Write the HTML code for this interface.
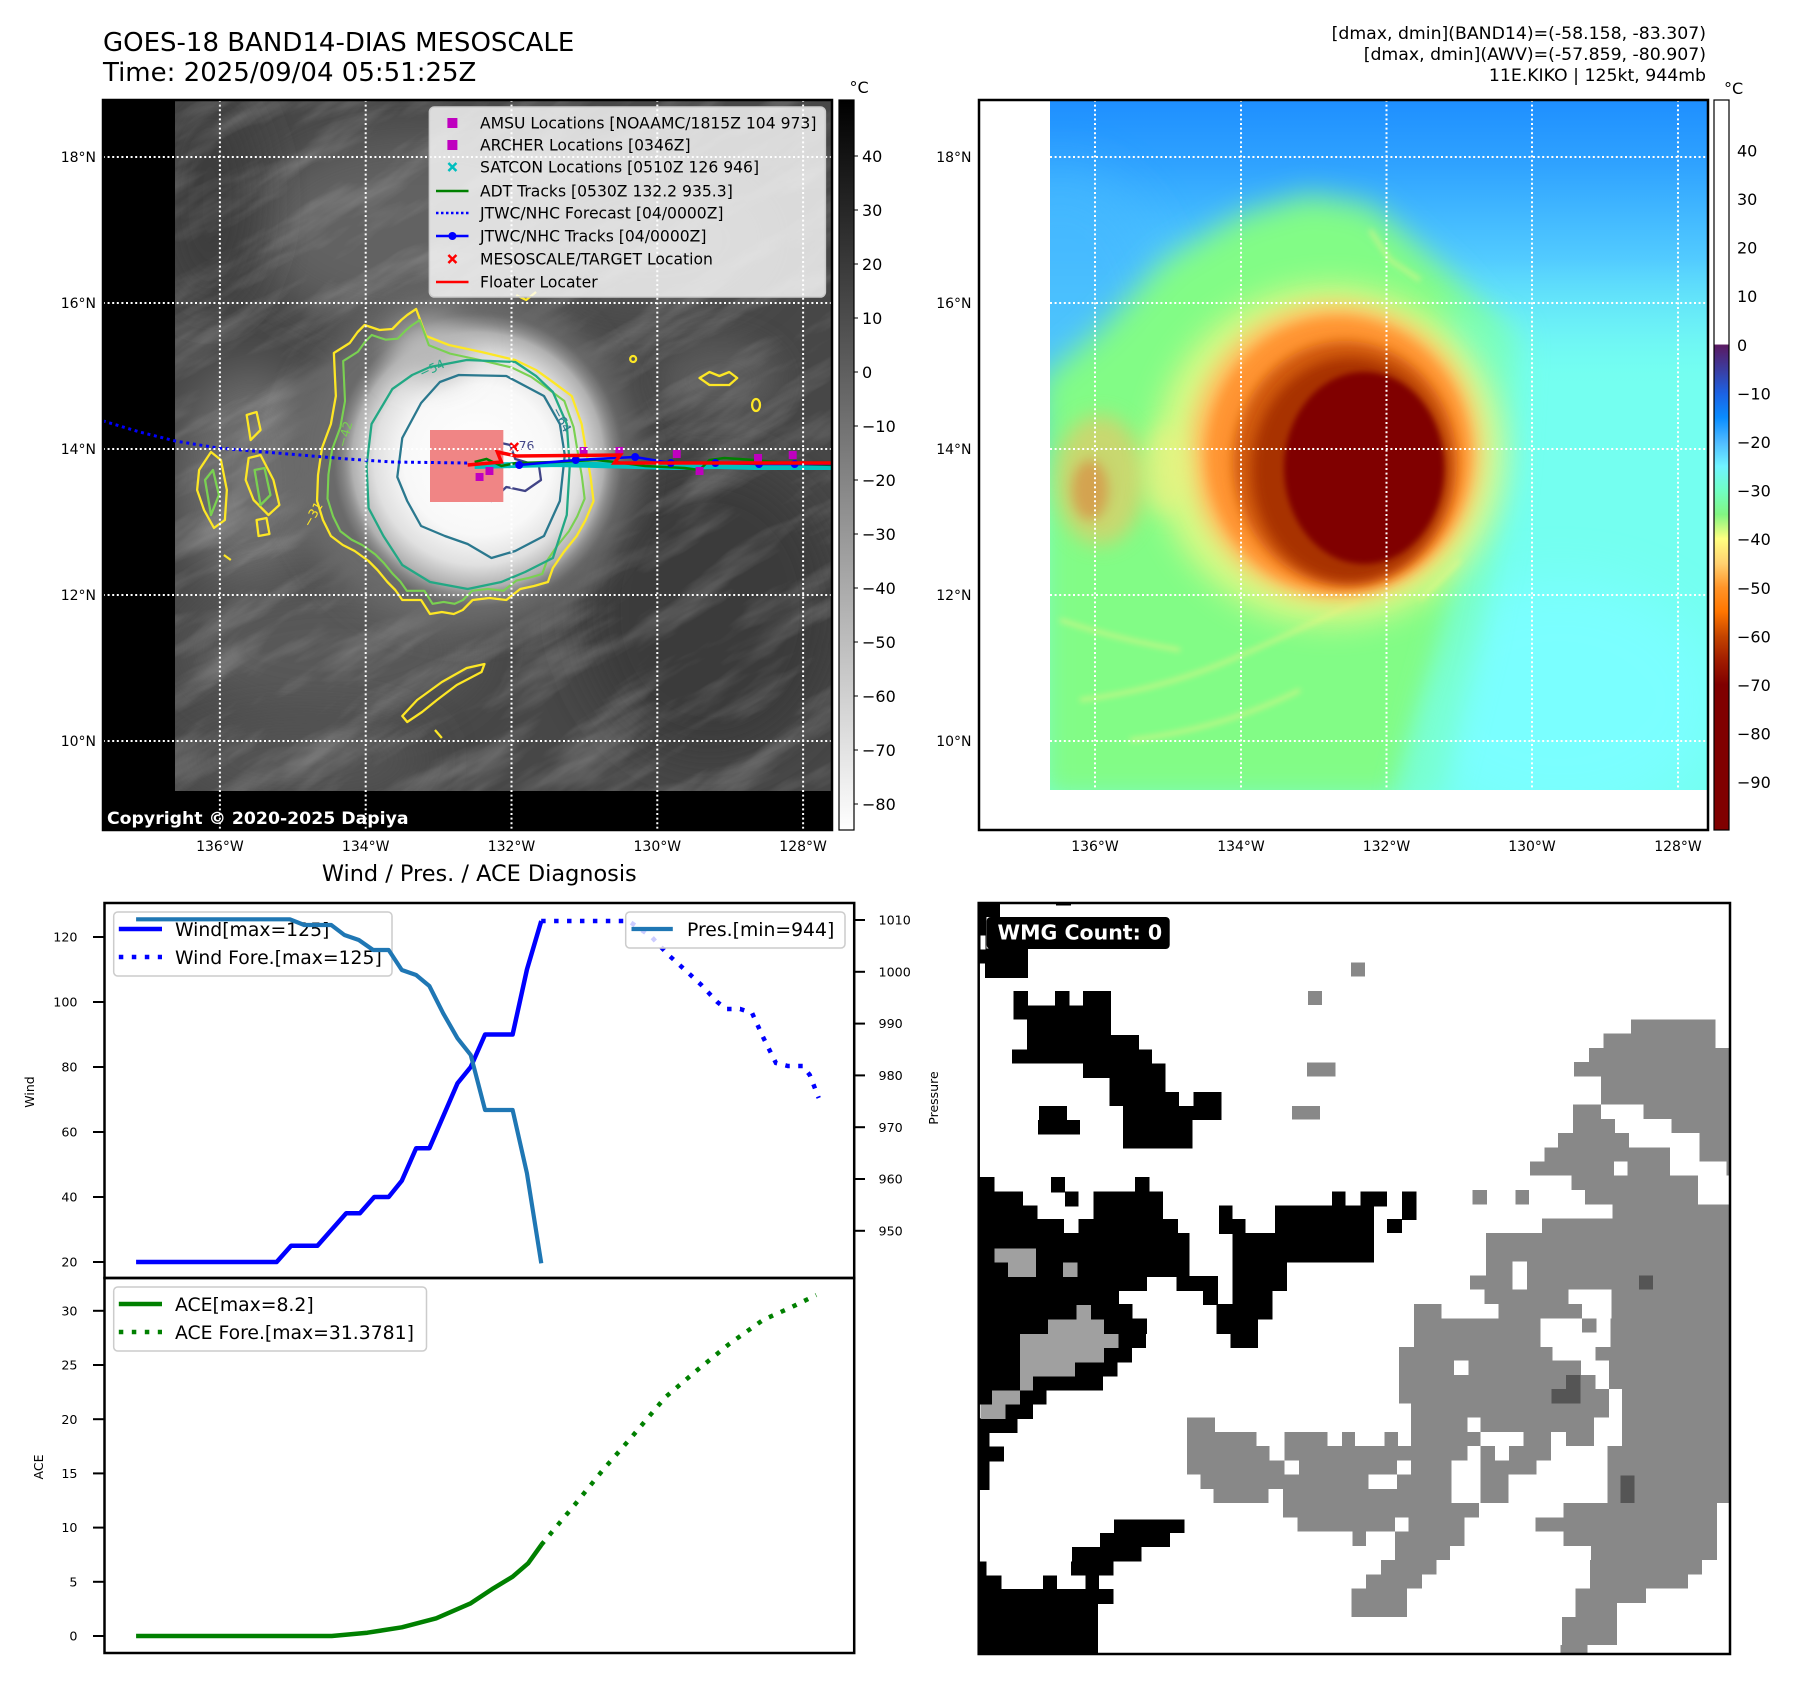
<!DOCTYPE html>
<html><head><meta charset="utf-8"><style>
html,body{margin:0;padding:0;background:#fff;}
svg{display:block;}
text{font-family:"DejaVu Sans","Liberation Sans",sans-serif;}
</style></head><body>
<svg width="1797" height="1690" viewBox="0 0 1797 1690" xmlns="http://www.w3.org/2000/svg">
<defs>
<clipPath id="clipL"><rect x="103" y="100" width="729" height="730"/></clipPath>
<clipPath id="clipLD"><rect x="175" y="100" width="657" height="691"/></clipPath>
<clipPath id="clipR"><rect x="979" y="100" width="729" height="730"/></clipPath>
<clipPath id="clipRD"><rect x="1050" y="100" width="658" height="690"/></clipPath>
<filter id="b2" x="-50%" y="-50%" width="200%" height="200%"><feGaussianBlur stdDeviation="2"/></filter>
<filter id="b3" x="-50%" y="-50%" width="200%" height="200%"><feGaussianBlur stdDeviation="3"/></filter>
<filter id="b6" x="-50%" y="-50%" width="200%" height="200%"><feGaussianBlur stdDeviation="6"/></filter>
<filter id="b10" x="-50%" y="-50%" width="200%" height="200%"><feGaussianBlur stdDeviation="10"/></filter>
<filter id="b15" x="-50%" y="-50%" width="200%" height="200%"><feGaussianBlur stdDeviation="15"/></filter>
<filter id="b25" x="-50%" y="-50%" width="200%" height="200%"><feGaussianBlur stdDeviation="25"/></filter>
<filter id="tex" x="0" y="0" width="100%" height="100%"><feTurbulence type="fractalNoise" baseFrequency="0.008 0.035" numOctaves="4" seed="7"/><feColorMatrix type="matrix" values="0 0 0 0 1  0 0 0 0 1  0 0 0 0 1  1.6 0 0 0 -0.72"/></filter>
<radialGradient id="rgL" cx="0.5" cy="0.5" r="0.5">
<stop offset="0" stop-color="#ffffff"/><stop offset="0.5" stop-color="#f8f8f8"/>
<stop offset="0.7" stop-color="#e0e0e0"/><stop offset="0.85" stop-color="#b0b0b0"/>
<stop offset="0.95" stop-color="#808080" stop-opacity="0.5"/><stop offset="1" stop-color="#606060" stop-opacity="0"/>
</radialGradient>
<linearGradient id="cbL" x1="0" y1="0" x2="0" y2="1"><stop offset="0" stop-color="#000"/><stop offset="1" stop-color="#fff"/></linearGradient>
<linearGradient id="cbR" x1="0" y1="0" x2="0" y2="1">
<stop offset="0" stop-color="#fff"/><stop offset="0.334" stop-color="#fff"/>
<stop offset="0.336" stop-color="#5a1a62"/><stop offset="0.369" stop-color="#3c3ca0"/>
<stop offset="0.402" stop-color="#1c62e4"/><stop offset="0.435" stop-color="#0a8cff"/>
<stop offset="0.469" stop-color="#50bcff"/><stop offset="0.502" stop-color="#70f4ff"/>
<stop offset="0.535" stop-color="#70ffc4"/><stop offset="0.568" stop-color="#82f582"/>
<stop offset="0.601" stop-color="#ffff80"/><stop offset="0.635" stop-color="#ffd070"/>
<stop offset="0.668" stop-color="#ff9428"/><stop offset="0.701" stop-color="#ff7600"/>
<stop offset="0.735" stop-color="#c44400"/><stop offset="0.768" stop-color="#a01c00"/>
<stop offset="0.801" stop-color="#800000"/><stop offset="1" stop-color="#800000"/>
</linearGradient>
<linearGradient id="lgTop" gradientUnits="userSpaceOnUse" x1="0" y1="100" x2="0" y2="390">
<stop offset="0" stop-color="#1e8fff"/><stop offset="0.22" stop-color="#2fa2ff"/>
<stop offset="0.55" stop-color="#52cbff"/><stop offset="0.8" stop-color="#68eafa" stop-opacity="0.6"/>
<stop offset="1" stop-color="#74fff0" stop-opacity="0"/>
</linearGradient>
<path id="cY" fill="none" stroke-linejoin="round" d="M419,309 L429,336 L452,345 L485,352 L519,360 L540,370 L557,382 L576,396 L586,424 L590,448 L595,477 L598,501 L590,520 L581,536 L568,552 L557,568 L552,582 L538,586 L524,589 L510,600 L493,598 L476,600 L466,610 L457,614 L445,612 L433,614 L424,600 L405,600 L398,590 L390,582 L380,570 L371,561 L357,551 L345,545 L333,536 L325,520 L319,501 L320,475 L324,448 L333,424 L338,396 L337,375 L336,353 L352,343 L360,332 L367,325 L382,330 L395,329 L404,320 L410,315 Z"/>
</defs>

<!-- Titles -->
<text x="103" y="51" font-size="26">GOES-18 BAND14-DIAS MESOSCALE</text>
<text x="103" y="81" font-size="26">Time: 2025/09/04 05:51:25Z</text>
<g font-size="17.3" text-anchor="end">
<text x="1706" y="39">[dmax, dmin](BAND14)=(-58.158, -83.307)</text>
<text x="1706" y="60">[dmax, dmin](AWV)=(-57.859, -80.907)</text>
<text x="1706" y="81">11E.KIKO | 125kt, 944mb</text>
</g>

<!-- LEFT MAP -->
<g clip-path="url(#clipL)">
<rect x="103" y="100" width="729" height="730" fill="#000"/>
<g clip-path="url(#clipLD)">
<rect x="175" y="100" width="657" height="691" fill="#474747"/>
<ellipse cx="420" cy="230" rx="170" ry="95" fill="#626262" filter="url(#b25)"/>
<ellipse cx="650" cy="240" rx="120" ry="70" fill="#545454" filter="url(#b25)"/>
<ellipse cx="210" cy="200" rx="50" ry="110" fill="#3c3c3c" filter="url(#b25)"/>
<ellipse cx="250" cy="480" rx="70" ry="110" fill="#6e6e6e" filter="url(#b25)"/>
<ellipse cx="330" cy="650" rx="150" ry="70" fill="#595959" filter="url(#b25)"/>
<ellipse cx="710" cy="610" rx="130" ry="150" fill="#3a3a3a" filter="url(#b25)"/>
<ellipse cx="300" cy="760" rx="130" ry="40" fill="#555555" filter="url(#b25)"/>
<ellipse cx="720" cy="380" rx="60" ry="40" fill="#5a5a5a" filter="url(#b15)"/>
<g transform="rotate(-30 500 450)"><rect x="-150" y="-250" width="1300" height="1400" filter="url(#tex)" opacity="0.3"/></g>
<ellipse cx="462" cy="462" rx="175" ry="170" fill="#6a6a6a" filter="url(#b15)"/>
<ellipse cx="478" cy="460" rx="148" ry="150" fill="url(#rgL)"/>
<ellipse cx="430" cy="350" rx="40" ry="30" fill="#b8b8b8" filter="url(#b15)"/>
</g>
<g transform="translate(100 0) scale(0.991 1) translate(-100 0)">
<g fill="none" stroke-width="2.3" stroke-linejoin="round">
<use href="#cY" stroke="#fde725"/>
<use href="#cY" stroke="#7ad151" transform="translate(470 468) scale(0.93) translate(-470 -468)"/>
<path stroke="#22a884" d="M433,367 L470,360 L519,362 L540,376 L557,392 L571,424 L574,466 L571,515 L557,558 L529,572 L505,582 L471,589 L433,582 L405,565 L386,536 L371,508 L369,466 L374,424 L395,389 L415,375 Z"/>
<path stroke="#2a788e" d="M462,375 L510,376 L548,396 L564,424 L569,455 L564,501 L548,536 L519,551 L495,558 L471,544 L448,536 L424,526 L410,501 L400,477 L405,438 L424,403 L443,382 Z"/>
<path stroke="#414487" d="M495,441 L514,445 L519,459 L543,466 L545,480 L529,491 L510,487 L495,501 L481,498 L462,487 L457,480 L476,473 L490,455 Z"/>
<g stroke="#fde725">
<path d="M200,470 L212,452 L222,460 L228,490 L226,520 L215,528 L205,510 L198,490 Z"/>
<path d="M248,415 L258,412 L262,430 L252,440 Z"/>
<path d="M250,458 L262,455 L275,480 L281,505 L270,515 L255,500 L247,480 Z"/>
<path d="M258,520 L268,518 L271,534 L260,536 Z"/>
<path d="M705,378 L715,372 L725,376 L735,372 L743,378 L735,385 L715,385 Z"/>
<ellipse cx="762" cy="405" rx="4" ry="6"/>
<circle cx="638" cy="359" r="3"/>
<path d="M470,668 L488,664 L485,672 L460,685 L440,700 L425,712 L410,722 L405,716 L420,700 L445,682 Z"/>
<path d="M438,730 L445,738"/>
<path d="M520,295 L530,300 L540,292"/>
<path d="M225,555 L232,560"/>
</g>
<g stroke="#7ad151"><path d="M206,480 L214,470 L220,495 L212,515 Z"/><path d="M256,470 L266,468 L272,495 L262,505 Z"/></g>
</g>
<g font-size="12.5">
<text x="425" y="378" fill="#22a884" transform="rotate(-25 425 378)">−54</text>
<text x="556" y="410" fill="#2a788e" transform="rotate(62 556 410)">−64</text>
<text x="512" y="450" fill="#414487">−76</text>
<text x="348" y="448" fill="#7ad151" transform="rotate(-75 348 448)">−42</text>
<text x="312" y="528" fill="#fde725" transform="rotate(-60 312 528)">−31</text>
</g>
<rect x="433" y="430" width="74" height="72" fill="#f08585"/>
<polyline points="90,417 140,432 176,441 219,448 290,454 350,459 395,462 471,463" fill="none" stroke="#0000ff" stroke-width="3" stroke-dasharray="3 3.7"/>
<polyline points="478,466 520,465 560,464 600,465 640,466 680,467 720,466 760,467 800,467 845,467" fill="none" stroke="#00bfbf" stroke-width="6"/>
<polyline points="478,462 490,459 505,466 520,463 560,462 600,460 620,462 650,466 690,468 705,470 715,460 730,458 760,460 800,464 845,465" fill="none" stroke="#008000" stroke-width="2.5"/>
<polyline points="523,465 580,460 640,457 676,463 721,463 765,464 801,464 845,464" fill="none" stroke="#0000ff" stroke-width="2.5"/>
<g fill="#0000ff"><circle cx="523" cy="465" r="4"/><circle cx="580" cy="460" r="4"/><circle cx="640" cy="457" r="4"/><circle cx="676" cy="463" r="4"/><circle cx="721" cy="463" r="4"/><circle cx="765" cy="464" r="4"/><circle cx="801" cy="464" r="4"/></g>
<g fill="#bf00bf"><rect x="584" y="447" width="8" height="8"/><rect x="620" y="447" width="8" height="8"/><rect x="678" y="450" width="8" height="8"/><rect x="760" y="454" width="8" height="8"/><rect x="795" y="451" width="8" height="8"/><rect x="479" y="473" width="8" height="8"/><rect x="489" y="467" width="8" height="8"/><rect x="701" y="467" width="8" height="8"/></g>
<path d="M471,465 L505,462 L501,452 L520,456 L625,455 L619,463 L845,463" fill="none" stroke="#ff0000" stroke-width="3.5"/>
<path d="M514,443 L522,451 M522,443 L514,451" stroke="#ff0000" stroke-width="2.5"/>
</g>
<g stroke="#fff" stroke-width="2" stroke-dasharray="2 2.6">
<line x1="103" y1="157" x2="832" y2="157"/><line x1="103" y1="303" x2="832" y2="303"/><line x1="103" y1="449" x2="832" y2="449"/><line x1="103" y1="595" x2="832" y2="595"/><line x1="103" y1="741" x2="832" y2="741"/>
<line x1="219.9" y1="100" x2="219.9" y2="830"/><line x1="365.7" y1="100" x2="365.7" y2="830"/><line x1="511.5" y1="100" x2="511.5" y2="830"/><line x1="657.3" y1="100" x2="657.3" y2="830"/><line x1="803.1" y1="100" x2="803.1" y2="830"/>
</g>
<rect x="429.4" y="107" width="396" height="190" rx="5" fill="#fff" fill-opacity="0.8" stroke="#cccccc" stroke-width="1.5"/>
<rect x="447.4" y="118" width="10" height="10" fill="#bf00bf"/>
<rect x="447.4" y="140" width="10" height="10" fill="#bf00bf"/>
<path d="M448.4,163 L456.4,171 M456.4,163 L448.4,171" stroke="#00bfbf" stroke-width="2.5"/>
<line x1="436" y1="191" x2="468.5" y2="191" stroke="#008000" stroke-width="2.5"/>
<line x1="436" y1="213" x2="468.5" y2="213" stroke="#0000ff" stroke-width="2.5" stroke-dasharray="2.5 2.5"/>
<line x1="436" y1="236" x2="468.5" y2="236" stroke="#0000ff" stroke-width="2.5"/><circle cx="452.4" cy="236" r="4" fill="#0000ff"/>
<path d="M448.4,255 L456.4,263 M456.4,255 L448.4,263" stroke="#ff0000" stroke-width="2.5"/>
<line x1="436" y1="282" x2="468.5" y2="282" stroke="#ff0000" stroke-width="2.5"/>
<g font-size="15.6">
<text x="480" y="128.5">AMSU Locations [NOAAMC/1815Z 104 973]</text>
<text x="480" y="150.5">ARCHER Locations [0346Z]</text>
<text x="480" y="172.5">SATCON Locations [0510Z 126 946]</text>
<text x="480" y="196.5">ADT Tracks [0530Z 132.2 935.3]</text>
<text x="480" y="218.5">JTWC/NHC Forecast [04/0000Z]</text>
<text x="480" y="241.5">JTWC/NHC Tracks [04/0000Z]</text>
<text x="480" y="264.5">MESOSCALE/TARGET Location</text>
<text x="480" y="287.5">Floater Locater</text>
</g>
<text x="107" y="824" font-size="17.3" font-weight="bold" fill="#fff">Copyright © 2020-2025 Dapiya</text>
</g>
<rect x="103" y="100" width="729" height="730" fill="none" stroke="#000" stroke-width="2.5"/>
<rect x="839" y="100" width="15" height="730" fill="url(#cbL)" stroke="#000" stroke-width="1.2"/>
<text x="849.5" y="93" font-size="16">°C</text>
<g font-size="16">
<text x="862" y="161.8">40</text><text x="862" y="215.8">30</text><text x="862" y="269.8">20</text><text x="862" y="323.8">10</text><text x="862" y="377.8">0</text>
<text x="862" y="431.8">−10</text><text x="862" y="485.8">−20</text><text x="862" y="539.8">−30</text><text x="862" y="593.8">−40</text><text x="862" y="647.8">−50</text>
<text x="862" y="701.8">−60</text><text x="862" y="755.8">−70</text><text x="862" y="809.8">−80</text>
</g>
<g stroke="#000" stroke-width="1"><line x1="854" y1="156" x2="858" y2="156"/><line x1="854" y1="210" x2="858" y2="210"/><line x1="854" y1="264" x2="858" y2="264"/><line x1="854" y1="318" x2="858" y2="318"/><line x1="854" y1="372" x2="858" y2="372"/><line x1="854" y1="426" x2="858" y2="426"/><line x1="854" y1="480" x2="858" y2="480"/><line x1="854" y1="534" x2="858" y2="534"/><line x1="854" y1="588" x2="858" y2="588"/><line x1="854" y1="642" x2="858" y2="642"/><line x1="854" y1="696" x2="858" y2="696"/><line x1="854" y1="750" x2="858" y2="750"/><line x1="854" y1="804" x2="858" y2="804"/></g>
<g font-size="14" text-anchor="end">
<text x="96" y="162">18°N</text><text x="96" y="308">16°N</text><text x="96" y="454">14°N</text><text x="96" y="600">12°N</text><text x="96" y="746">10°N</text>
<text x="971.5" y="162">18°N</text><text x="971.5" y="308">16°N</text><text x="971.5" y="454">14°N</text><text x="971.5" y="600">12°N</text><text x="971.5" y="746">10°N</text>
</g>
<g font-size="14" text-anchor="middle">
<text x="219.9" y="851">136°W</text><text x="365.7" y="851">134°W</text><text x="511.5" y="851">132°W</text><text x="657.3" y="851">130°W</text><text x="803.1" y="851">128°W</text>
<text x="1095" y="851">136°W</text><text x="1241" y="851">134°W</text><text x="1386.5" y="851">132°W</text><text x="1532" y="851">130°W</text><text x="1678" y="851">128°W</text>
</g>

<!-- RIGHT MAP -->
<g clip-path="url(#clipR)">
<rect x="979" y="100" width="729" height="730" fill="#fff"/>
<g clip-path="url(#clipRD)">
<rect x="1050" y="100" width="658" height="690" fill="#74fff0"/>
<rect x="1050" y="100" width="658" height="690" fill="url(#lgTop)"/>
<ellipse cx="1060" cy="320" rx="110" ry="150" fill="#44b8ff" filter="url(#b25)" opacity="0.8"/>
<ellipse cx="1560" cy="700" rx="160" ry="120" fill="#7affff" filter="url(#b25)"/>
<path d="M1040,380 L1100,330 L1165,260 L1240,215 L1308,195 L1370,205 L1400,230 L1450,275 L1500,330 L1490,420 L1480,520 L1460,620 L1430,700 L1400,800 L1040,800 Z" fill="#82fc86" filter="url(#b15)"/>
<path d="M1440,300 L1520,330 L1510,480 L1480,640 L1440,800 L1400,800 L1440,650 L1470,500 Z" fill="#78ffc8" filter="url(#b15)" opacity="0.8"/>
<g fill="none" stroke="#f4f488" stroke-width="4" filter="url(#b3)" opacity="0.55">
<path d="M1080,700 Q1160,690 1230,660 T1360,600"/>
<path d="M1130,740 Q1220,730 1300,690"/>
<path d="M1060,620 Q1120,640 1180,650"/>
<path d="M1420,600 L1460,560"/>
<path d="M1370,230 L1390,260 L1420,280"/>
</g>
<ellipse cx="1330" cy="455" rx="175" ry="170" fill="#f6f884" filter="url(#b15)" opacity="0.75"/>
<ellipse cx="1335" cy="452" rx="145" ry="148" fill="#ffc060" filter="url(#b10)"/>
<ellipse cx="1338" cy="455" rx="132" ry="138" fill="#ff9430" filter="url(#b6)"/>
<ellipse cx="1345" cy="463" rx="112" ry="122" fill="#d05a10" filter="url(#b6)"/>
<ellipse cx="1350" cy="470" rx="98" ry="112" fill="#a83000" filter="url(#b6)"/>
<ellipse cx="1364" cy="468" rx="80" ry="96" fill="#800000" filter="url(#b3)"/>
<ellipse cx="1100" cy="480" rx="45" ry="65" fill="#f8c060" filter="url(#b10)" opacity="0.6"/>
<ellipse cx="1090" cy="490" rx="18" ry="30" fill="#e07030" filter="url(#b6)" opacity="0.5"/>
<ellipse cx="1165" cy="470" rx="22" ry="45" fill="#f0f080" filter="url(#b10)" opacity="0.6"/>
</g>
<g stroke="#fff" stroke-width="2" stroke-dasharray="2 2.6">
<line x1="1050" y1="157" x2="1708" y2="157"/><line x1="1050" y1="303" x2="1708" y2="303"/><line x1="1050" y1="449" x2="1708" y2="449"/><line x1="1050" y1="595" x2="1708" y2="595"/><line x1="1050" y1="741" x2="1708" y2="741"/>
<line x1="1095" y1="100" x2="1095" y2="790"/><line x1="1241" y1="100" x2="1241" y2="790"/><line x1="1386.5" y1="100" x2="1386.5" y2="790"/><line x1="1532" y1="100" x2="1532" y2="790"/><line x1="1678" y1="100" x2="1678" y2="790"/>
</g>
</g>
<rect x="979" y="100" width="729" height="730" fill="none" stroke="#000" stroke-width="2.5"/>
<rect x="1714" y="100" width="15" height="730" fill="url(#cbR)" stroke="#000" stroke-width="1.2"/>
<text x="1724" y="94" font-size="16">°C</text>
<g font-size="16">
<text x="1737" y="156.4">40</text><text x="1737" y="205">30</text><text x="1737" y="253.6">20</text><text x="1737" y="302.2">10</text><text x="1737" y="350.8">0</text>
<text x="1737" y="399.4">−10</text><text x="1737" y="448">−20</text><text x="1737" y="496.6">−30</text><text x="1737" y="545.2">−40</text><text x="1737" y="593.8">−50</text>
<text x="1737" y="642.4">−60</text><text x="1737" y="691">−70</text><text x="1737" y="739.6">−80</text><text x="1737" y="788.2">−90</text>
</g>

<!-- BOTTOM LEFT CHART -->
<text x="479.3" y="881" font-size="22.4" text-anchor="middle">Wind / Pres. / ACE Diagnosis</text>
<g stroke="#000" stroke-width="2">
<line x1="93" y1="1262" x2="104.5" y2="1262"/><line x1="93" y1="1197" x2="104.5" y2="1197"/><line x1="93" y1="1132" x2="104.5" y2="1132"/><line x1="93" y1="1067" x2="104.5" y2="1067"/><line x1="93" y1="1002" x2="104.5" y2="1002"/><line x1="93" y1="937" x2="104.5" y2="937"/>
<line x1="854" y1="920" x2="865" y2="920"/><line x1="854" y1="971.8" x2="865" y2="971.8"/><line x1="854" y1="1023.6" x2="865" y2="1023.6"/><line x1="854" y1="1075.4" x2="865" y2="1075.4"/><line x1="854" y1="1127.2" x2="865" y2="1127.2"/><line x1="854" y1="1179" x2="865" y2="1179"/><line x1="854" y1="1230.8" x2="865" y2="1230.8"/>
<line x1="93" y1="1636" x2="104.5" y2="1636"/><line x1="93" y1="1581.8" x2="104.5" y2="1581.8"/><line x1="93" y1="1527.6" x2="104.5" y2="1527.6"/><line x1="93" y1="1473.4" x2="104.5" y2="1473.4"/><line x1="93" y1="1419.2" x2="104.5" y2="1419.2"/><line x1="93" y1="1365" x2="104.5" y2="1365"/><line x1="93" y1="1310.8" x2="104.5" y2="1310.8"/>
</g>
<g font-size="12.7" text-anchor="end">
<text x="77.5" y="1266.6">20</text><text x="77.5" y="1201.6">40</text><text x="77.5" y="1136.6">60</text><text x="77.5" y="1071.6">80</text><text x="77.5" y="1006.6">100</text><text x="77.5" y="941.6">120</text>
<text x="77.5" y="1640.6">0</text><text x="77.5" y="1586.4">5</text><text x="77.5" y="1532.2">10</text><text x="77.5" y="1478">15</text><text x="77.5" y="1423.8">20</text><text x="77.5" y="1369.6">25</text><text x="77.5" y="1315.4">30</text>
</g>
<g font-size="12.7">
<text x="878.5" y="924.6">1010</text><text x="878.5" y="976.4">1000</text><text x="878.5" y="1028.2">990</text><text x="878.5" y="1080">980</text><text x="878.5" y="1131.8">970</text><text x="878.5" y="1183.6">960</text><text x="878.5" y="1235.4">950</text>
</g>
<g font-size="12.5" text-anchor="middle">
<text x="34" y="1092" transform="rotate(-90 34 1092)">Wind</text>
<text x="938" y="1098" transform="rotate(-90 938 1098)">Pressure</text>
<text x="43" y="1467" transform="rotate(-90 43 1467)">ACE</text>
</g>
<g transform="matrix(0.9948 0 0 1 0 0)">
<polyline points="136.8,1262 278.1,1262 292.6,1245.75 319.1,1245.75 348,1213.25 361.8,1213.25 376.2,1197 390.7,1197 403.9,1180.75 418.3,1148.25 431.6,1148.25 459.9,1083.25 473.2,1067 487.6,1034.5 515.3,1034.5 529.7,969.5 544.1,921" fill="none" stroke="#0000ff" stroke-width="4.5" stroke-linejoin="round"/>
<polyline points="544,921 632,921 655,937 672,955 692,973 705,985 721,1002 730,1009 744,1009 756,1013 767,1037 780,1063 792,1066 807,1066 814,1075 823,1098" fill="none" stroke="#0000ff" stroke-width="4.5" stroke-dasharray="4.5 8.5"/>
</g>
<rect x="113.7" y="912" width="278.3" height="64" rx="4" fill="#fff" fill-opacity="0.8" stroke="#cccccc" stroke-width="1.5"/>
<line x1="118.8" y1="929" x2="162" y2="929" stroke="#0000ff" stroke-width="4.5"/>
<line x1="118.8" y1="957" x2="162" y2="957" stroke="#0000ff" stroke-width="4.5" stroke-dasharray="4.5 8.5"/>
<text x="175" y="936" font-size="18.8">Wind[max=125]</text>
<text x="175" y="964" font-size="18.8">Wind Fore.[max=125]</text>
<g transform="matrix(0.9948 0 0 1 0 0)">
<polyline points="136.8,919.3 291.4,919.3 305.8,925 333,925 346.2,935 360.7,940 375.1,950 390.7,950 403.9,970 418.3,975 431.6,986 445.5,1013.3 459.9,1038.3 473.2,1055 487.6,1110 515.3,1110 529.7,1173.3 544.1,1263.3" fill="none" stroke="#1f77b4" stroke-width="4.2" stroke-linejoin="round"/>
</g>
<rect x="625.7" y="912" width="219.3" height="36" rx="4" fill="#fff" fill-opacity="0.8" stroke="#cccccc" stroke-width="1.5"/>
<line x1="631.5" y1="929" x2="672.8" y2="929" stroke="#1f77b4" stroke-width="4.2"/>
<text x="687" y="936" font-size="18.8">Pres.[min=944]</text>
<g transform="matrix(0.9948 0 0 1 0 0)">
<polyline points="136.8,1636 333.5,1636 369.3,1632.7 404,1627.3 438.5,1618.3 473.2,1603.3 496,1588.3 515.3,1576.7 530.9,1563.3 544.1,1545" fill="none" stroke="#008000" stroke-width="4.5" stroke-linejoin="round"/>
<polyline points="544,1545 554,1533 580,1502 606,1470 635,1437 669,1397 701,1370 733,1344 767,1320 796,1307 820.5,1295" fill="none" stroke="#008000" stroke-width="4.5" stroke-dasharray="4.5 8.5"/>
</g>
<rect x="113.7" y="1287" width="312.8" height="64" rx="4" fill="#fff" fill-opacity="0.8" stroke="#cccccc" stroke-width="1.5"/>
<line x1="118.8" y1="1304" x2="162" y2="1304" stroke="#008000" stroke-width="4.5"/>
<line x1="118.8" y1="1332" x2="162" y2="1332" stroke="#008000" stroke-width="4.5" stroke-dasharray="4.5 8.5"/>
<text x="175" y="1311" font-size="18.8">ACE[max=8.2]</text>
<text x="175" y="1339" font-size="18.8">ACE Fore.[max=31.3781]</text>
<rect x="104.5" y="903" width="749.7" height="375" fill="none" stroke="#000" stroke-width="2.5"/>
<rect x="104.5" y="1278" width="749.7" height="375" fill="none" stroke="#000" stroke-width="2.5"/>

<!-- BOTTOM RIGHT GRID -->
<rect x="978.7" y="903" width="751.3" height="751" fill="#fff"/>
<g transform="translate(978.7 903) scale(0.53397 0.51722) translate(-35 -45)" shape-rendering="crispEdges">
<g fill="#888888">
<rect x="732" y="160" width="26" height="27"/><rect x="652" y="215" width="26" height="27"/><rect x="650" y="353" width="53" height="27"/><rect x="622" y="437" width="52" height="27"/>
<rect x="1257" y="270" width="158" height="27"/>
<rect x="1205" y="297" width="210" height="28"/>
<rect x="1178" y="325" width="262" height="27"/>
<rect x="1150" y="352" width="290" height="28"/>
<rect x="1200" y="380" width="240" height="55"/>
<rect x="1148" y="435" width="52" height="28"/><rect x="1280" y="435" width="160" height="28"/>
<rect x="1148" y="463" width="79" height="27"/><rect x="1332" y="463" width="108" height="27"/>
<rect x="1120" y="490" width="133" height="28"/><rect x="1385" y="490" width="55" height="28"/>
<rect x="1095" y="518" width="235" height="27"/><rect x="1385" y="518" width="55" height="27"/>
<rect x="1067" y="545" width="158" height="27"/><rect x="1250" y="545" width="80" height="27"/><rect x="1435" y="545" width="5" height="27"/>
<rect x="1145" y="572" width="237" height="28"/>
<rect x="1170" y="600" width="212" height="28"/><rect x="960" y="600" width="27" height="28"/><rect x="1040" y="600" width="26" height="28"/>
<rect x="1222" y="628" width="218" height="27"/>
<rect x="1090" y="655" width="350" height="28"/>
<rect x="985" y="683" width="455" height="55"/>
<rect x="985" y="738" width="50" height="27"/><rect x="1062" y="738" width="378" height="27"/>
<rect x="955" y="765" width="80" height="27"/><rect x="1062" y="765" width="378" height="27"/>
<rect x="982" y="792" width="158" height="28"/><rect x="1220" y="792" width="220" height="28"/>
<rect x="850" y="820" width="52" height="28"/><rect x="1008" y="820" width="157" height="28"/><rect x="1220" y="820" width="220" height="28"/>
<rect x="850" y="848" width="237" height="27"/><rect x="1165" y="848" width="27" height="27"/><rect x="1218" y="848" width="222" height="27"/>
<rect x="850" y="875" width="237" height="28"/><rect x="1218" y="875" width="222" height="28"/>
<rect x="822" y="903" width="288" height="27"/><rect x="1190" y="903" width="250" height="27"/>
<rect x="822" y="930" width="103" height="28"/><rect x="952" y="930" width="211" height="28"/><rect x="1215" y="930" width="225" height="28"/>
<rect x="822" y="958" width="368" height="27"/><rect x="1215" y="958" width="225" height="27"/>
<rect x="822" y="985" width="393" height="28"/><rect x="1240" y="985" width="200" height="28"/>
<rect x="845" y="1013" width="370" height="27"/><rect x="1240" y="1013" width="200" height="27"/>
<rect x="425" y="1040" width="53" height="28"/><rect x="845" y="1040" width="105" height="28"/><rect x="975" y="1040" width="212" height="28"/><rect x="1240" y="1040" width="200" height="28"/>
<rect x="425" y="1068" width="130" height="27"/><rect x="608" y="1068" width="80" height="27"/><rect x="715" y="1068" width="25" height="27"/><rect x="795" y="1068" width="25" height="27"/><rect x="845" y="1068" width="130" height="27"/><rect x="1055" y="1068" width="52" height="27"/><rect x="1135" y="1068" width="52" height="27"/><rect x="1240" y="1068" width="200" height="27"/>
<rect x="425" y="1095" width="155" height="28"/><rect x="608" y="1095" width="342" height="28"/><rect x="975" y="1095" width="27" height="28"/><rect x="1028" y="1095" width="79" height="28"/><rect x="1213" y="1095" width="227" height="28"/>
<rect x="425" y="1123" width="183" height="27"/><rect x="635" y="1123" width="183" height="27"/><rect x="845" y="1123" width="75" height="27"/><rect x="975" y="1123" width="105" height="27"/><rect x="1213" y="1123" width="227" height="27"/>
<rect x="450" y="1150" width="315" height="28"/><rect x="818" y="1150" width="102" height="28"/><rect x="975" y="1150" width="52" height="28"/><rect x="1213" y="1150" width="227" height="28"/>
<rect x="475" y="1178" width="103" height="27"/><rect x="605" y="1178" width="315" height="27"/><rect x="975" y="1178" width="52" height="27"/><rect x="1213" y="1178" width="227" height="27"/>
<rect x="605" y="1205" width="367" height="28"/><rect x="1130" y="1205" width="288" height="28"/>
<rect x="632" y="1233" width="183" height="27"/><rect x="840" y="1233" width="105" height="27"/><rect x="1078" y="1233" width="340" height="27"/>
<rect x="735" y="1260" width="25" height="28"/><rect x="815" y="1260" width="130" height="28"/><rect x="1130" y="1260" width="288" height="28"/>
<rect x="815" y="1288" width="103" height="27"/><rect x="1182" y="1288" width="236" height="27"/>
<rect x="788" y="1315" width="104" height="28"/><rect x="1180" y="1315" width="210" height="28"/>
<rect x="760" y="1343" width="105" height="27"/><rect x="1180" y="1343" width="183" height="27"/>
<rect x="733" y="1370" width="104" height="28"/><rect x="1153" y="1370" width="132" height="28"/>
<rect x="733" y="1398" width="104" height="27"/><rect x="1153" y="1398" width="77" height="27"/>
<rect x="1127" y="1425" width="103" height="55"/>
<rect x="1125" y="1480" width="50" height="17"/>
</g>
<g fill="#555555"><rect x="1272" y="765" width="26" height="27"/><rect x="1135" y="958" width="27" height="27"/><rect x="1108" y="985" width="54" height="28"/><rect x="1237" y="1152" width="26" height="53"/></g>
<g fill="#000">
<rect x="35" y="45" width="40" height="27"/><rect x="35" y="72" width="15" height="61"/><rect x="35" y="133" width="92" height="57"/><rect x="180" y="45" width="28" height="5"/>
<path d="M100,215 L127,215 L127,243 L178,243 L178,215 L205,215 L205,243 L230,243 L230,215 L283,215 L283,300 L335,300 L335,328 L360,328 L360,355 L385,355 L385,410 L410,410 L410,437 L437,437 L437,410 L490,410 L490,465 L435,465 L435,520 L305,520 L305,437 L280,437 L280,383 L230,383 L230,355 L97,355 L97,328 L125,328 L125,270 L100,270 Z"/>
<path d="M148,437 L200,437 L200,465 L225,465 L225,493 L146,493 L146,465 L148,465 Z"/>
<rect x="35" y="575" width="30" height="30"/><rect x="170" y="575" width="27" height="30"/><rect x="328" y="575" width="27" height="30"/>
<rect x="35" y="603" width="83" height="29"/><rect x="197" y="603" width="25" height="29"/><rect x="250" y="603" width="130" height="29"/><rect x="697" y="603" width="25" height="29"/><rect x="750" y="603" width="50" height="29"/><rect x="828" y="603" width="27" height="29"/>
<rect x="35" y="630" width="110" height="28"/><rect x="250" y="630" width="130" height="28"/><rect x="485" y="630" width="25" height="28"/><rect x="590" y="630" width="185" height="28"/><rect x="828" y="630" width="27" height="28"/>
<rect x="35" y="656" width="160" height="29"/><rect x="222" y="656" width="186" height="29"/><rect x="485" y="656" width="50" height="29"/><rect x="590" y="656" width="185" height="29"/><rect x="800" y="656" width="28" height="27"/>
<rect x="35" y="683" width="395" height="30"/><rect x="510" y="683" width="265" height="30"/>
<rect x="35" y="711" width="30" height="29"/><rect x="142" y="711" width="288" height="29"/><rect x="510" y="711" width="265" height="29"/>
<rect x="35" y="738" width="55" height="30"/><rect x="142" y="738" width="51" height="30"/><rect x="220" y="738" width="210" height="30"/><rect x="510" y="738" width="102" height="30"/>
<rect x="35" y="766" width="315" height="29"/><rect x="405" y="766" width="78" height="29"/><rect x="510" y="766" width="102" height="29"/>
<rect x="35" y="793" width="263" height="29"/><rect x="455" y="793" width="28" height="29"/><rect x="510" y="793" width="75" height="29"/>
<rect x="35" y="820" width="183" height="30"/><rect x="245" y="820" width="78" height="30"/><rect x="480" y="820" width="105" height="30"/>
<rect x="35" y="848" width="130" height="30"/><rect x="270" y="848" width="80" height="30"/><rect x="480" y="848" width="78" height="30"/>
<rect x="35" y="876" width="77" height="29"/><rect x="297" y="876" width="51" height="29"/><rect x="507" y="876" width="51" height="29"/>
<rect x="35" y="903" width="77" height="30"/><rect x="270" y="903" width="52" height="30"/>
<rect x="35" y="931" width="77" height="29"/><rect x="215" y="931" width="80" height="29"/>
<rect x="35" y="958" width="77" height="30"/><rect x="137" y="958" width="131" height="30"/>
<rect x="35" y="986" width="25" height="29"/><rect x="112" y="986" width="50" height="29"/>
<rect x="85" y="1013" width="52" height="30"/>
<rect x="35" y="1041" width="73" height="29"/>
<rect x="35" y="1068" width="20" height="30"/>
<rect x="35" y="1096" width="47" height="29"/>
<rect x="35" y="1123" width="20" height="57"/>
<rect x="288" y="1237" width="132" height="26"/>
<rect x="262" y="1263" width="131" height="27"/>
<rect x="210" y="1290" width="130" height="28"/>
<rect x="208" y="1318" width="79" height="27"/><rect x="35" y="1318" width="15" height="27"/>
<rect x="35" y="1345" width="43" height="28"/><rect x="155" y="1345" width="27" height="28"/><rect x="235" y="1345" width="25" height="28"/>
<rect x="35" y="1371" width="252" height="29"/>
<rect x="35" y="1398" width="223" height="99"/>
</g>
<g fill="#a0a0a0">
<rect x="65" y="713" width="77" height="27"/>
<rect x="90" y="740" width="52" height="28"/><rect x="193" y="740" width="27" height="28"/>
<rect x="218" y="822" width="27" height="28"/>
<rect x="165" y="850" width="105" height="28"/>
<rect x="112" y="878" width="185" height="27"/>
<rect x="112" y="905" width="158" height="28"/>
<rect x="112" y="933" width="103" height="27"/>
<rect x="112" y="960" width="25" height="28"/>
<rect x="60" y="988" width="52" height="27"/>
<rect x="38" y="1015" width="47" height="28"/>
</g>
<g fill="#fff"><rect x="38" y="108" width="10" height="27"/><rect x="35" y="162" width="12" height="28"/></g>
</g>
<rect x="986.7" y="917" width="183" height="32" rx="4" fill="#000"/>
<text x="997.5" y="939.5" font-size="20.5" font-weight="bold" fill="#fff">WMG Count: 0</text>
<rect x="978.7" y="903" width="751.3" height="751" fill="none" stroke="#000" stroke-width="2.5"/>
</svg>
</body></html>
